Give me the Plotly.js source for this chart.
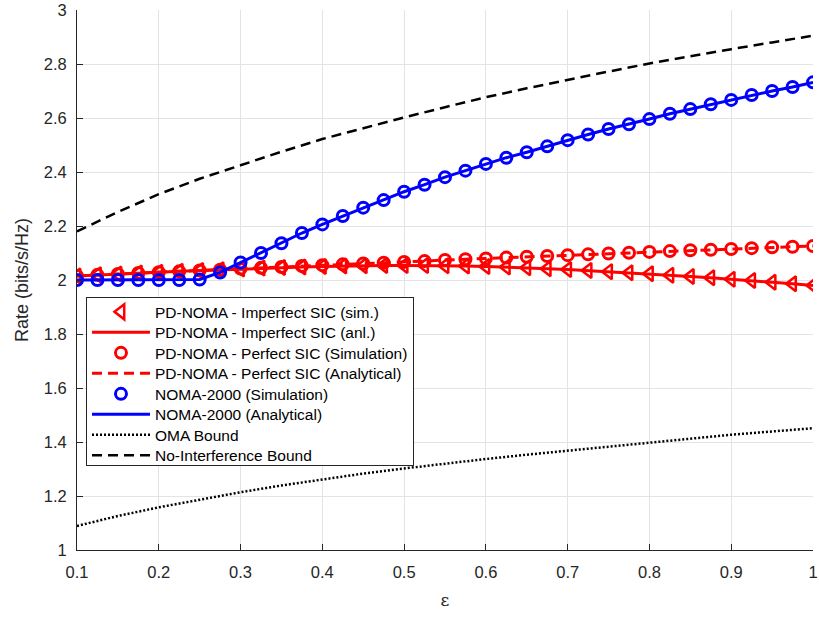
<!DOCTYPE html>
<html>
<head>
<meta charset="utf-8">
<script src="https://cdn.plot.ly/plotly-3.0.1.min.js"></script>
<style>html,body{margin:0;padding:0;background:#fff;}#chart{width:819px;height:617px;}</style>
</head>
<body>
<div id="chart"></div>
<script>
// epsilon values (0.1 to 1, step 0.025)
const eps = [0.1,0.125,0.15,0.175,0.2,0.225,0.25,0.275,0.3,0.325,0.35,0.375,0.4,0.425,0.45,0.475,0.5,0.525,0.55,0.575,0.6,0.625,0.65,0.675,0.7,0.725,0.75,0.775,0.8,0.825,0.85,0.875,0.9,0.925,0.95,0.975,1.0];

const imperfectSIC = [2.015,2.019,2.022,2.026,2.029,2.032,2.035,2.038,2.041,2.044,2.046,2.048,2.050,2.052,2.053,2.054,2.054,2.054,2.053,2.052,2.050,2.048,2.045,2.042,2.039,2.035,2.031,2.027,2.023,2.018,2.013,2.008,2.003,1.998,1.992,1.986,1.980];

const perfectSIC = [2.015,2.019,2.022,2.026,2.029,2.032,2.035,2.038,2.042,2.045,2.048,2.052,2.055,2.058,2.061,2.064,2.067,2.070,2.074,2.077,2.080,2.083,2.086,2.089,2.092,2.095,2.098,2.101,2.104,2.107,2.110,2.112,2.115,2.118,2.121,2.123,2.126];

const noma2000 = [2.000,2.000,2.000,2.000,2.000,2.000,2.002,2.028,2.065,2.100,2.136,2.174,2.206,2.237,2.268,2.296,2.327,2.353,2.381,2.405,2.430,2.453,2.473,2.495,2.518,2.539,2.559,2.577,2.596,2.616,2.633,2.651,2.667,2.685,2.700,2.715,2.732];

const boundEps = [0.1,0.15,0.2,0.25,0.3,0.35,0.4,0.45,0.5,0.55,0.6,0.65,0.7,0.75,0.8,0.85,0.9,0.95,1.0];
const omaBound = [1.089,1.126,1.158,1.187,1.214,1.239,1.262,1.283,1.302,1.320,1.337,1.353,1.368,1.383,1.397,1.412,1.427,1.439,1.451];
const noInterfBound = [2.180,2.252,2.318,2.375,2.425,2.475,2.522,2.563,2.602,2.640,2.677,2.710,2.742,2.772,2.802,2.829,2.855,2.880,2.905];

const xTicks = [0.1,0.2,0.3,0.4,0.5,0.6,0.7,0.8,0.9,1];
const xTickText = ["0.1","0.2","0.3","0.4","0.5","0.6","0.7","0.8","0.9","1"];
const yTicks = [1,1.2,1.4,1.6,1.8,2,2.2,2.4,2.6,2.8,3];
const yTickText = ["1","1.2","1.4","1.6","1.8","2","2.2","2.4","2.6","2.8","3"];

const red = "#ff0000", blue = "#0000ff";

const traces = [
  {x: eps, y: imperfectSIC, mode: "markers", name: "PD-NOMA - Imperfect SIC (sim.)",
   marker: {symbol: "triangle-left-open", size: 13, color: red, line: {width: 2.5, color: red}}},
  {x: eps, y: imperfectSIC, mode: "lines", name: "PD-NOMA - Imperfect SIC (anl.)",
   line: {color: red, width: 3}},
  {x: eps, y: perfectSIC, mode: "markers", name: "PD-NOMA - Perfect SIC (Simulation)",
   marker: {symbol: "circle-open", size: 11, color: red, line: {width: 3, color: red}}},
  {x: eps, y: perfectSIC, mode: "lines", name: "PD-NOMA - Perfect SIC (Analytical)",
   line: {color: red, width: 3, dash: "10px,6px"}},
  {x: eps, y: noma2000, mode: "markers", name: "NOMA-2000 (Simulation)",
   marker: {symbol: "circle-open", size: 11, color: blue, line: {width: 3, color: blue}}},
  {x: eps, y: noma2000, mode: "lines", name: "NOMA-2000 (Analytical)",
   line: {color: blue, width: 3}},
  {x: boundEps, y: omaBound, mode: "lines", name: "OMA Bound",
   line: {color: "#000", width: 2.5, dash: "2px,2px"}},
  {x: boundEps, y: noInterfBound, mode: "lines", name: "No-Interference Bound",
   line: {color: "#000", width: 2.5, dash: "10px,6px"}}
];

const axCommon = {
  showline: true, linecolor: "#262626", linewidth: 1,
  ticks: "inside", ticklen: 6, tickcolor: "#262626", tickwidth: 1,
  showgrid: true, gridcolor: "#e3e3e3", gridwidth: 1,
  zeroline: false, mirror: false,
  tickfont: {family: "Liberation Sans, Arial, sans-serif", size: 16.5, color: "#262626"}
};

const layout = {
  width: 819, height: 617,
  margin: {l: 77, r: 6, t: 10, b: 67},
  paper_bgcolor: "#fff", plot_bgcolor: "#fff",
  font: {family: "Liberation Sans, Arial, sans-serif", color: "#000"},
  showlegend: true,
  xaxis: Object.assign({}, axCommon, {
    range: [0.1, 1], tickvals: xTicks, ticktext: xTickText, ticklabelstandoff: 7,
    title: {text: "ε", font: {size: 17, color: "#262626", family: "DejaVu Serif, serif"}, standoff: 14}
  }),
  yaxis: Object.assign({}, axCommon, {
    range: [1, 3], tickvals: yTicks, ticktext: yTickText, ticklabelstandoff: 6,
    title: {text: "Rate (bits/s/Hz)", font: {size: 18, color: "#262626"}, standoff: 10}
  }),
  legend: {
    x: 0.0122, y: 0.468, xanchor: "left", yanchor: "top",
    bgcolor: "#fff", bordercolor: "#262626", borderwidth: 1,
    font: {size: 15.5, color: "#000", family: "Liberation Sans, Arial, sans-serif"},
    itemwidth: 58, tracegroupgap: 0
  }
};

Plotly.newPlot("chart", traces, layout, {displayModeBar: false, staticPlot: true}).then(function (gd) {
  // tighten legend row spacing to match the reference (~20.5px per row)
  const rowGap = 20.5, shiftUp = 3, extraShrink = 8;
  const items = gd.querySelectorAll(".legend .traces");
  if (!items.length) return;
  const parse = el => {
    const m = /translate\(\s*([-\d.e]+)[ ,]+([-\d.e]+)\s*\)/.exec(el.getAttribute("transform") || "");
    return m ? [parseFloat(m[1]), parseFloat(m[2])] : [0, 0];
  };
  const first = parse(items[0]);
  const lastOld = parse(items[items.length - 1])[1];
  const y0 = first[1] - shiftUp;
  items.forEach((el, i) => {
    const p = parse(el);
    el.setAttribute("transform", "translate(" + p[0] + "," + (y0 + i * rowGap) + ")");
  });
  const lastNew = y0 + (items.length - 1) * rowGap;
  const shrink = lastOld - lastNew + extraShrink;
  const bg = gd.querySelector(".legend rect.bg");
  if (bg) {
    const h = parseFloat(bg.getAttribute("height"));
    bg.setAttribute("height", h - shrink);
  }
});
</script>
</body>
</html>
